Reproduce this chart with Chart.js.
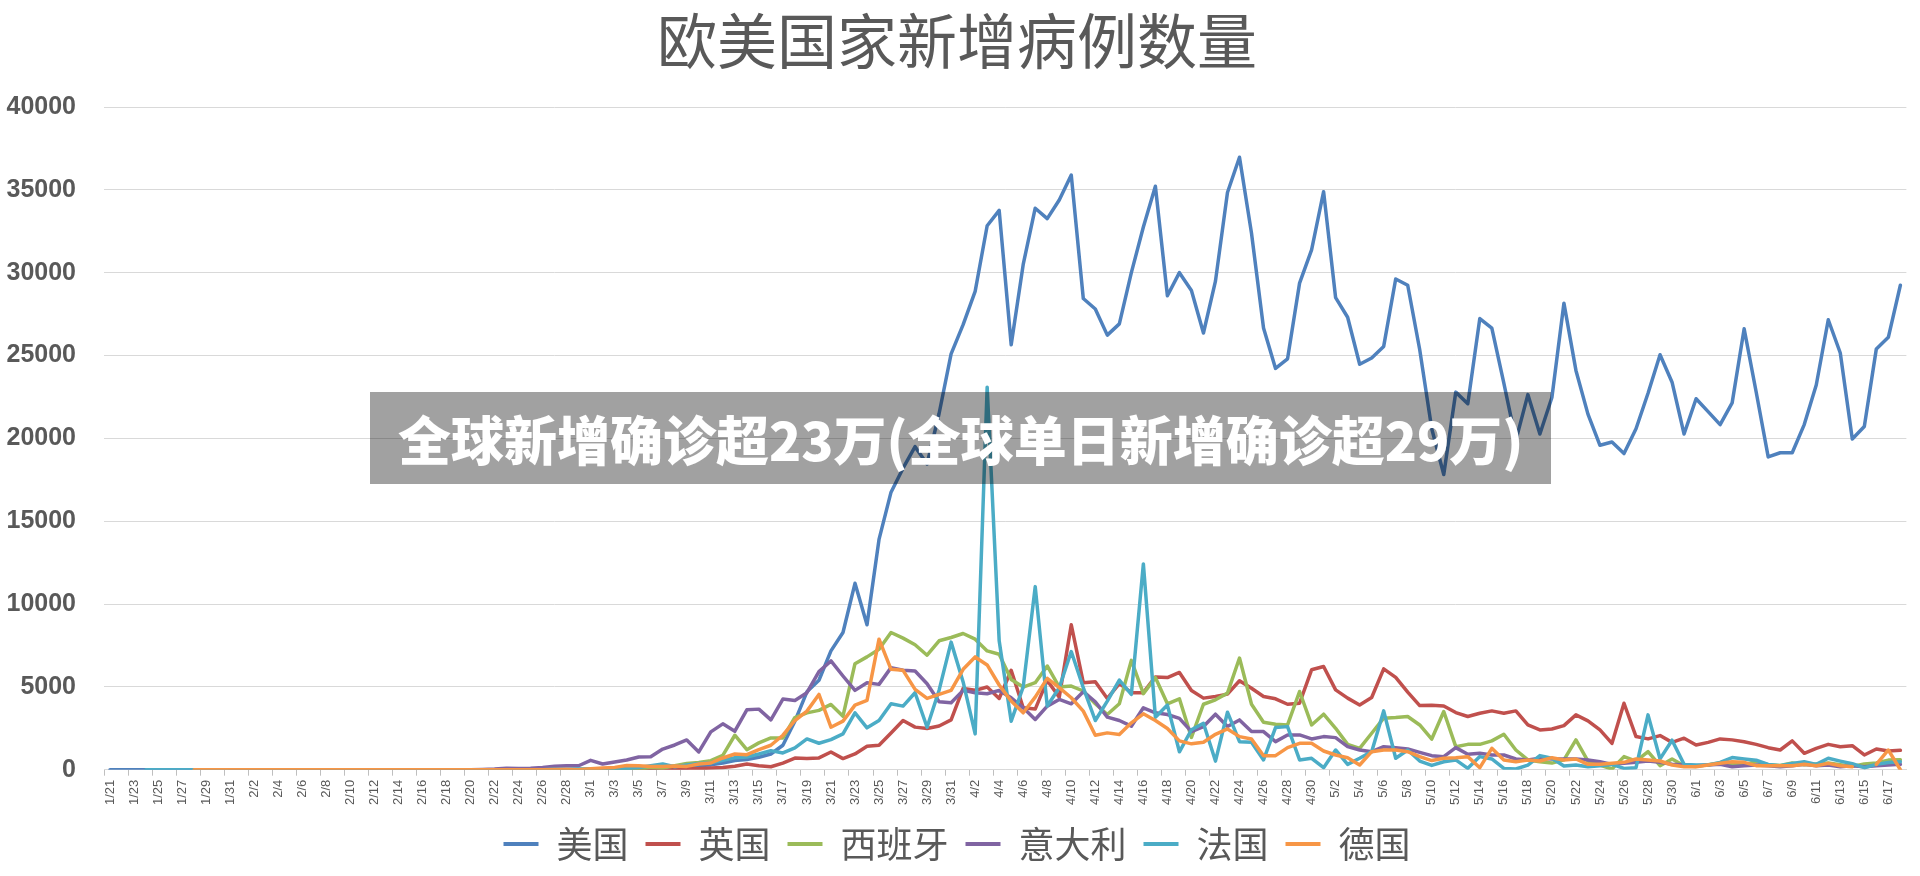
<!DOCTYPE html>
<html>
<head>
<meta charset="utf-8">
<script src="https://cdn.jsdelivr.net/npm/chart.js"></script>
<style>
    html, body { margin: 0; padding: 0; background: #ffffff; }
    #wrap { position: relative; width: 1920px; height: 876px; }
    #banner {
        position: absolute; left: 370px; top: 392px; width: 1181px; height: 92px;
        box-sizing: border-box; padding-left: 28px;
        background: rgba(0, 0, 0, 0.37); color: #ffffff;
        font-family: 'Noto Sans CJK SC', sans-serif; font-weight: 900; font-size: 53px;
        line-height: 92px; white-space: nowrap;
    }
</style>
</head>
<body>
<div id="wrap">
    <canvas id="chart"></canvas>
    <div id="banner">全球新增确诊超23万(全球单日新增确诊超29万)</div>
</div>
<script>
// dates 1/21 - 6/18
const days = [
    '1/21','1/22','1/23','1/24','1/25','1/26','1/27','1/28','1/29','1/30','1/31',
    '2/1','2/2','2/3','2/4','2/5','2/6','2/7','2/8','2/9','2/10','2/11','2/12','2/13','2/14','2/15',
    '2/16','2/17','2/18','2/19','2/20','2/21','2/22','2/23','2/24','2/25','2/26','2/27','2/28','2/29',
    '3/1','3/2','3/3','3/4','3/5','3/6','3/7','3/8','3/9','3/10','3/11','3/12','3/13','3/14','3/15',
    '3/16','3/17','3/18','3/19','3/20','3/21','3/22','3/23','3/24','3/25','3/26','3/27','3/28','3/29',
    '3/30','3/31',
    '4/1','4/2','4/3','4/4','4/5','4/6','4/7','4/8','4/9','4/10','4/11','4/12','4/13','4/14','4/15',
    '4/16','4/17','4/18','4/19','4/20','4/21','4/22','4/23','4/24','4/25','4/26','4/27','4/28','4/29','4/30',
    '5/1','5/2','5/3','5/4','5/5','5/6','5/7','5/8','5/9','5/10','5/11','5/12','5/13','5/14','5/15',
    '5/16','5/17','5/18','5/19','5/20','5/21','5/22','5/23','5/24','5/25','5/26','5/27','5/28','5/29',
    '5/30','5/31',
    '6/1','6/2','6/3','6/4','6/5','6/6','6/7','6/8','6/9','6/10','6/11','6/12','6/13','6/14','6/15',
    '6/16','6/17','6/18'
];

const yTicks = [0, 5000, 10000, 15000, 20000, 25000, 30000, 35000, 40000];

const countries = ['美国', '英国', '西班牙', '意大利', '法国', '德国'];
const colors = ['#4f81bd', '#c0504d', '#9bbb59', '#8064a2', '#4bacc6', '#f79646'];

const usa = [
    1,0,0,1,0,2,0,0,0,0,
    0,1,0,0,0,0,0,0,0,0,
    0,0,0,0,0,0,0,0,0,0,
    0,0,0,0,0,0,0,6,3,7,
    9,23,20,31,68,45,140,116,120,250,
    290,400,560,620,750,950,1475,2930,4700,5400,
    7170,8280,11250,8750,13900,16750,18200,19500,18450,21500,
    25100,26860,28870,32830,33760,25650,30500,33890,33260,34390,
    35890,28440,27810,26230,26910,30000,32760,35220,28610,30000,
    28920,26360,29490,34840,36970,32380,26660,24220,24800,29370,
    31380,34890,28490,27310,24470,24850,25550,29620,29240,25350,
    20580,17820,22790,22090,27230,26660,23340,19880,22640,20260,
    22470,28160,24100,21460,19580,19780,19080,20580,22720,25050,
    23390,20260,22390,21610,20830,22140,26610,22800,18880,19130,
    19130,20830,23220,27160,25150,19960,20710,25400,26100,29240
];

const uk = [
    null,null,null,null,null,null,null,null,null,null,
    2,0,0,0,0,0,0,0,1,0,
    0,0,0,0,0,0,0,0,0,0,
    0,0,0,0,4,0,0,2,5,3,
    12,4,11,34,30,48,43,67,60,70,
    100,130,210,340,240,180,400,700,670,710,
    1070,670,950,1410,1480,2220,2970,2570,2490,2640,
    3010,4910,4790,4990,4300,6000,3740,3660,5390,4380,
    8750,5250,5310,4300,5190,4650,4650,5600,5560,5870,
    4780,4320,4420,4560,5370,4920,4420,4280,3950,4010,
    6030,6230,4820,4320,3910,4360,6090,5570,4680,3870,
    3890,3850,3450,3210,3410,3550,3410,3550,2700,2400,
    2460,2660,3310,2950,2400,1590,4010,2000,1860,2060,
    1650,1900,1490,1650,1860,1800,1690,1530,1330,1190,
    1740,990,1290,1530,1390,1450,890,1250,1130,1170
];

const spain = [
    null,null,null,null,null,null,null,null,null,null,
    null,1,0,0,0,0,0,0,0,1,
    0,0,0,0,0,0,0,0,0,0,
    0,0,0,0,0,1,10,2,17,13,
    40,30,50,60,40,140,100,240,380,440,
    545,870,2080,1210,1620,1920,1920,3150,3430,3580,
    3940,3230,6400,6810,7270,8280,7940,7540,6910,7780,
    7980,8220,7880,7170,6970,5450,4990,5250,6260,4990,
    5050,4750,3980,3330,3980,6600,4590,5560,3980,4280,
    1950,3950,4220,4620,6740,3950,2860,2740,2700,4720,
    2700,3350,2500,1530,1290,2200,3110,3150,3210,2700,
    1850,3510,1390,1530,1530,1740,2140,1190,590,480,
    400,590,1800,520,280,40,790,520,1090,240,
    650,240,200,300,400,350,300,500,300,250,
    400,300,350,400,300,200,350,400,580,600
];

const italy = [
    null,null,null,null,null,null,null,null,null,null,
    2,0,0,0,0,0,0,0,0,0,
    1,0,0,0,0,0,0,0,0,0,
    0,17,42,93,74,93,131,202,233,240,
    566,342,466,587,769,778,1247,1492,1797,1070,
    2283,2767,2323,3616,3656,3010,4262,4181,4646,5919,
    6565,5656,4787,5252,5151,6161,5999,5959,5191,4100,
    4040,4787,4646,4585,4787,4343,3737,3030,3838,4242,
    3979,4707,4101,3171,2969,2626,3737,3434,3333,3100,
    2300,2602,3348,2602,3005,2299,2299,1694,2098,2098,
    1856,1997,1936,1392,1190,1089,1392,1331,1251,1049,
    847,787,1331,928,988,888,888,645,585,686,
    645,645,645,585,484,323,383,444,524,444,
    323,282,242,282,323,182,242,282,242,182,
    242,323,242,282,182,242,182,242,282,323
];

const france = [
    null,null,null,2,1,0,0,1,0,0,
    0,0,0,0,0,0,0,0,0,0,
    0,0,0,0,0,0,0,0,0,0,
    0,0,0,0,0,2,3,20,19,43,
    30,61,21,73,138,240,340,177,286,372,
    420,570,720,770,949,1151,1010,1313,1858,1596,
    1818,2161,3434,2525,2969,3979,3838,4646,2565,4800,
    7700,5300,2160,23090,7780,2930,5000,11050,3840,4950,
    7130,4950,2970,4140,5410,4550,12420,3170,3900,1080,
    2410,2800,520,3470,1690,1650,590,2540,2600,590,
    690,120,1190,320,690,1090,3550,690,1190,520,
    260,480,590,80,790,650,80,40,280,850,
    690,220,280,180,240,320,80,120,3310,650,
    1780,320,280,280,440,730,650,570,320,240,
    380,480,320,690,520,360,120,320,440,480
];

const germany = [
    null,null,null,null,null,null,null,1,3,0,
    1,1,0,2,0,0,0,1,0,0,
    0,2,0,0,0,0,0,0,0,0,
    0,0,0,0,0,0,1,10,19,3,
    60,100,140,250,240,200,200,220,200,343,
    404,707,949,909,1212,1475,2081,2969,3535,4545,
    2565,2929,3899,4181,7878,6060,5999,4848,4303,4545,
    4787,6060,6807,6323,5111,4141,3434,4383,5515,4949,
    4343,3535,2081,2222,2121,2828,3373,2969,2485,1740,
    1560,1654,2138,2461,1997,1856,847,847,1331,1593,
    1593,1130,887,726,282,1089,1190,1190,1089,787,
    550,686,726,787,121,1291,585,484,585,524,
    726,585,645,323,323,383,444,645,585,524,
    282,182,182,282,383,484,444,242,242,242,
    242,323,242,383,242,182,null,323,1190,0
];

document.addEventListener('DOMContentLoaded', function() {
    const series = [usa, uk, spain, italy, france, germany];
    const textColor = '#595959';
    const cjk = "'Noto Sans CJK SC', sans-serif";

    // later series sit on top, like the original
    const datasets = series.map((values, i) => ({
        label: countries[i],
        data: values,
        borderColor: colors[i],
        backgroundColor: colors[i],
        borderWidth: 3.5,
        borderJoinStyle: 'round',
        borderCapStyle: 'round',
        pointRadius: 0,
        tension: 0,
        spanGaps: false,
        order: series.length - i
    }));

    const canvas = document.getElementById('chart');
    canvas.width = 1920;
    canvas.height = 876;

    new Chart(canvas, {
        type: 'line',
        data: { labels: days, datasets: datasets },
        options: {
            responsive: false,
            animation: false,
            layout: { padding: { left: 6, right: 12, top: 0, bottom: 4 } },
            plugins: {
                title: {
                    display: true,
                    text: '欧美国家新增病例数量',
                    color: textColor,
                    font: { family: cjk, size: 60, weight: 'normal' },
                    padding: { top: 5, bottom: 30 }
                },
                legend: {
                    position: 'bottom',
                    labels: {
                        color: textColor,
                        font: { family: cjk, size: 36 },
                        boxWidth: 35,
                        boxHeight: 4,
                        padding: 17,
                        sort: (a, b) => a.datasetIndex - b.datasetIndex,
                        generateLabels: chart => Chart.defaults.plugins.legend.labels.generateLabels(chart)
                            .map(item => Object.assign(item, { lineWidth: 0 }))
                    }
                },
                tooltip: { enabled: false }
            },
            scales: {
                x: {
                    offset: true,
                    grid: {
                        offset: true,
                        drawOnChartArea: false,
                        tickLength: 6,
                        color: ctx => ctx.index % 2 === 0 ? '#bfbfbf' : 'rgba(0,0,0,0)'
                    },
                    border: { color: '#d9d9d9' },
                    ticks: {
                        autoSkip: false,
                        maxRotation: 90,
                        minRotation: 90,
                        padding: 4,
                        color: textColor,
                        font: { family: "'Liberation Sans', Arial, sans-serif", size: 13 },
                        callback: (value, index) => index % 2 === 0 ? days[index] : ''
                    }
                },
                y: {
                    min: yTicks[0],
                    max: yTicks[yTicks.length - 1],
                    afterBuildTicks: axis => { axis.ticks = yTicks.map(v => ({ value: v })); },
                    afterFit: axis => { axis.width = 98; },
                    grid: { color: '#d9d9d9', lineWidth: 1, drawTicks: false },
                    border: { display: false },
                    ticks: {
                        padding: 28,
                        color: textColor,
                        font: { family: "'Liberation Sans', Arial, sans-serif", size: 25, weight: 'bold' },
                        callback: value => String(value)
                    }
                }
            }
        }
    });
});
</script>
</body>
</html>
